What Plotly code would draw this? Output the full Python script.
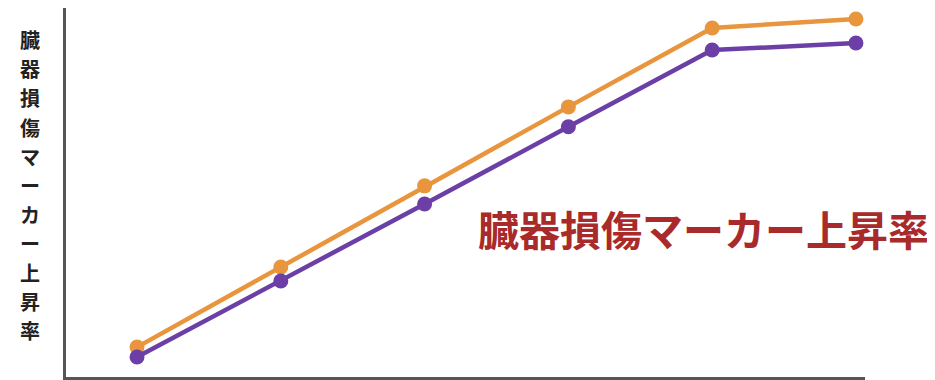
import plotly.graph_objects as go

stages = [1, 2, 3, 4, 5, 6]
series_orange = [8.1, 29.8, 51.8, 73.2, 94.6, 97.0]
series_purple = [5.4, 26.0, 46.9, 67.8, 88.6, 90.5]
axis_title = "臓器損傷マーカー上昇率"
label_text = "臓器損傷マーカー上昇率"

ORANGE = "#E8953D"
PURPLE = "#6B3FA6"
FONT = "Noto Sans CJK JP"

fig = go.Figure()
fig.add_trace(go.Scatter(
    x=stages, y=series_orange, mode="lines+markers",
    line=dict(color=ORANGE, width=4.5),
    marker=dict(color=ORANGE, size=15),
    showlegend=False, hoverinfo="skip"))
fig.add_trace(go.Scatter(
    x=stages, y=series_purple, mode="lines+markers",
    line=dict(color=PURPLE, width=4.5),
    marker=dict(color=PURPLE, size=15),
    showlegend=False, hoverinfo="skip"))

fig.add_annotation(
    x=4.94, y=40.3, xref="x", yref="y",
    text="<b>" + label_text + "</b>", showarrow=False,
    font=dict(family=FONT, size=41, color="#A82A2A"),
    xanchor="center", yanchor="middle")

# vertical (stacked) axis title, one character per row
n = len(axis_title)
top_c, bot_c = 0.914, 0.125  # paper-y of first / last character centres
for i, ch in enumerate(axis_title):
    fig.add_annotation(
        x=-0.045, y=top_c - (top_c - bot_c) * i / (n - 1),
        xref="paper", yref="paper",
        text="<b>" + ch + "</b>", showarrow=False,
        font=dict(family=FONT, size=20, color="#222222"),
        xanchor="center", yanchor="middle", borderpad=0)

fig.update_layout(
    width=927, height=372,
    margin=dict(l=58, r=70, t=0, b=3, autoexpand=False),
    paper_bgcolor="white", plot_bgcolor="white",
    xaxis=dict(range=[0.506, 6.063], showgrid=False, zeroline=False,
               showticklabels=False, ticks="", showline=True,
               linecolor="#555555", linewidth=3),
    yaxis=dict(range=[0, 100], showgrid=False, zeroline=False,
               showticklabels=False, ticks="", showline=True,
               linecolor="#555555", linewidth=3),
)

fig.write_html("out.html")
